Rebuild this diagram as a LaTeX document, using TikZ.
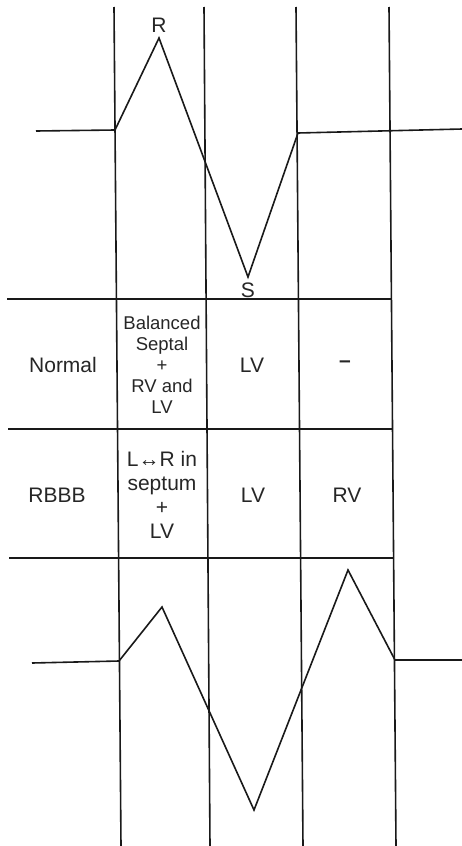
\documentclass[tikz,border=0pt]{standalone}
\usepackage{fontspec}
\setmainfont{Liberation Sans}
\usetikzlibrary{positioning}
\begin{document}
\begin{tikzpicture}[x=1pt,y=-1pt,
  rule/.style={line width=1.6pt,black!90},
  trace/.style={line width=1.6pt,black!90,line join=miter},
  cell/.style={font=\fontsize{21}{24}\selectfont,text=black!85,inner sep=0pt,align=center},
  smallcell/.style={font=\fontsize{18.5}{21}\selectfont,text=black!85,inner sep=0pt,align=center}
]
\useasboundingbox (0,0) rectangle (462,846);

% grid columns (slightly slanted, as scanned)
\foreach \xt/\xb [count=\i] in {114/121,204/210,296/303,389/396}
  \draw[rule] (\xt,7) coordinate (col\i t) -- (\xb,846) coordinate (col\i b);

% table rows
\coordinate (r1l) at (7,299);   \coordinate (r1r) at (392,299);
\coordinate (r2l) at (8,429);   \coordinate (r2r) at (393,429);
\coordinate (r3l) at (9,558);   \coordinate (r3r) at (394,558);
\draw[rule] (r1l) -- (r1r);
\draw[rule] (r2l) -- (r2r);
\draw[rule] (r3l) -- (r3r);

% normal QRS
\coordinate (n0) at (36,131);
\coordinate (n1) at (115,130);
\coordinate (nR) at (159,38);
\coordinate (nS) at (248,277);
\coordinate (n2) at (298,133);
\coordinate (n3) at (462,129);
\draw[trace] (n0) -- (n1) -- (nR) -- (nS) -- (n2) -- (n3);
\node[cell,above=5pt of nR] (lblR) {R};
\node[cell] (lblS) at (248,290) {S};

% RBBB QRS
\coordinate (b0) at (32,663);
\coordinate (b1) at (119,661);
\coordinate (br) at (162,607);
\coordinate (bs) at (254,810);
\coordinate (bR) at (348,570);
\coordinate (b2) at (395,660);
\coordinate (b3) at (462,660);
\draw[trace] (b0) -- (b1) -- (br) -- (bs) -- (bR) -- (b2) -- (b3);

% row: normal
\node[cell] (normal) at (63,365) {Normal};
\node[smallcell] (normsept) at (162,365) {Balanced\\Septal\\+\\RV and\\LV};
\node[cell] (normlv) at (252,365) {LV};
\node[cell] (normrv) at (345,364) {\bfseries –};

% row: RBBB
\node[cell] (rbbb) at (57,495) {RBBB};
\node[cell] (rbbbsept) at (162,495) {L↔R in\\septum\\+\\LV};
\node[cell] (rbbblv) at (253,495) {LV};
\node[cell] (rbbbrv) at (347,495) {RV};
\end{tikzpicture}
\end{document}
